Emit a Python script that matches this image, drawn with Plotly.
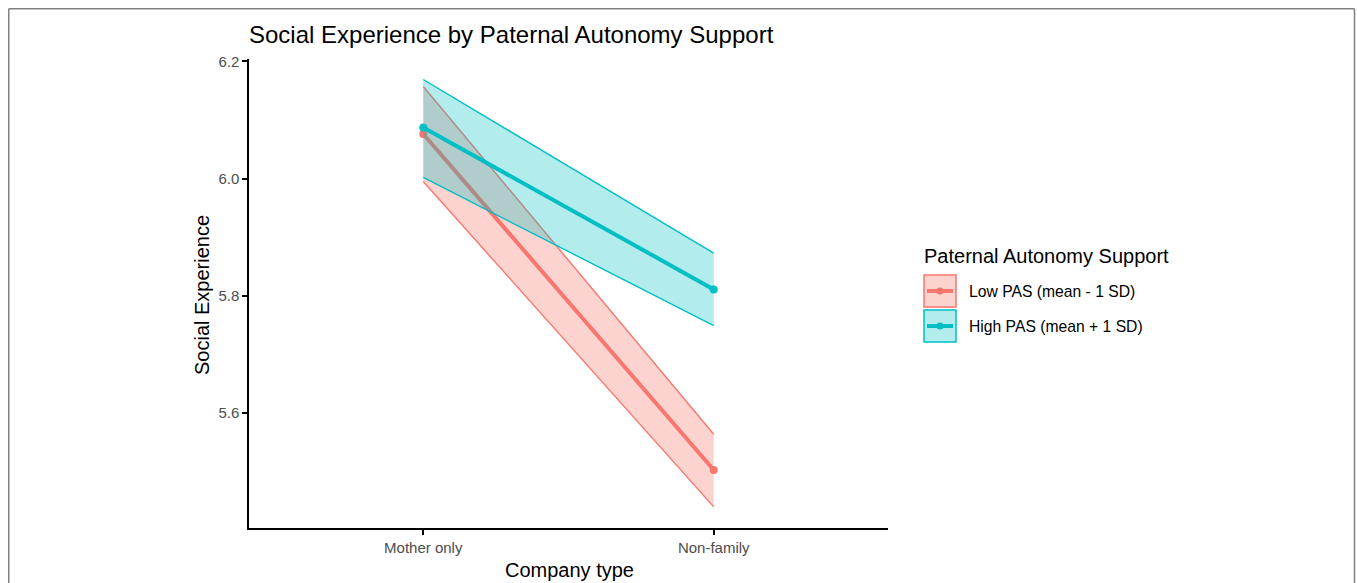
import plotly.graph_objects as go

# ---- data ----
categories = ["Mother only", "Non-family"]
series_names = ["Low PAS (mean - 1 SD)", "High PAS (mean + 1 SD)"]
low_mean = [6.076, 5.503]
low_lower = [5.995, 5.440]
low_upper = [6.157, 5.564]
high_mean = [6.087, 5.811]
high_lower = [6.002, 5.749]
high_upper = [6.169, 5.873]
y_ticks = [5.6, 5.8, 6.0, 6.2]

RED = "#F8766D"
CYAN = "#00BFC4"
RED_FILL = "rgba(248,118,109,0.32)"
CYAN_FILL = "rgba(0,191,196,0.30)"
FONT = "Liberation Sans, Arial, sans-serif"

# body margin is removed below, so figure pixels == page pixels
W, H = 1357, 583
L, R, T, B = 249, 888, 59, 528


def pxx(x):
    """page x pixel -> paper coordinate"""
    return (x - L) / (R - L)


def pxy(y):
    """page y pixel -> paper coordinate"""
    return (B - y) / (B - T)


fig = go.Figure()

groups = [
    (low_mean, low_lower, low_upper, RED, RED_FILL),
    (high_mean, high_lower, high_upper, CYAN, CYAN_FILL),
]
for mean, lower, upper, col, fill in groups:
    fig.add_trace(go.Scatter(
        x=categories + categories[::-1], y=upper + lower[::-1],
        fill="toself", fillcolor=fill, mode="lines",
        line=dict(width=0, color=fill), hoverinfo="skip", showlegend=False))
    for edge in (upper, lower):
        fig.add_trace(go.Scatter(x=categories, y=edge, mode="lines",
                                 line=dict(color=col, width=1.4),
                                 hoverinfo="skip", showlegend=False))
    fig.add_trace(go.Scatter(x=categories, y=mean, mode="lines+markers",
                             line=dict(color=col, width=4),
                             marker=dict(color=col, size=8),
                             showlegend=False))

fig.update_xaxes(
    type="category", range=[-0.6, 1.6], showline=True, linecolor="black",
    linewidth=1.5, ticks="outside", ticklen=5, tickcolor="black", tickwidth=1.5,
    showgrid=False, zeroline=False,
    tickfont=dict(family=FONT, size=15, color="#4D4D4D"))
fig.update_yaxes(
    range=[5.404, 6.204], tickvals=y_ticks, ticktext=[f"{v:.1f}" for v in y_ticks],
    showline=True, linecolor="black", linewidth=1.5, ticks="outside", ticklen=5,
    tickcolor="black", tickwidth=1.5, showgrid=False, zeroline=False,
    tickfont=dict(family=FONT, size=15, color="#4D4D4D"))

shapes = []
annotations = []
# outer frame: top, left and right edges
frame_line = dict(color="#808080", width=1.5)
for x0, y0, x1, y1 in [(8.75, 8.75, 1354.5, 8.75), (8.75, 8.75, 8.75, 640),
                       (1354.5, 8.75, 1354.5, 640)]:
    shapes.append(dict(type="line", xref="paper", yref="paper",
                       x0=pxx(x0), x1=pxx(x1), y0=pxy(y0), y1=pxy(y1),
                       line=frame_line, layer="above"))

# legend (manual, ggplot style)
annotations.append(dict(text="Paternal Autonomy Support", xref="paper", yref="paper",
                        x=pxx(922), y=pxy(256), xanchor="left", yanchor="middle",
                        showarrow=False, font=dict(family=FONT, size=20, color="black")))
key_rows = [(291, RED, RED_FILL, series_names[0]), (326, CYAN, CYAN_FILL, series_names[1])]
for yc, col, fill, name in key_rows:
    shapes.append(dict(type="rect", xref="paper", yref="paper",
                       x0=pxx(924), x1=pxx(956), y0=pxy(yc + 16), y1=pxy(yc - 16),
                       line=dict(color=col, width=1.5), fillcolor=fill))
    shapes.append(dict(type="line", xref="paper", yref="paper",
                       x0=pxx(927), x1=pxx(953), y0=pxy(yc), y1=pxy(yc),
                       line=dict(color=col, width=4)))
    shapes.append(dict(type="circle", xref="paper", yref="paper",
                       x0=pxx(936.5), x1=pxx(943.5), y0=pxy(yc + 3.5), y1=pxy(yc - 3.5),
                       line=dict(color=col, width=0), fillcolor=col))
    annotations.append(dict(text=name, xref="paper", yref="paper",
                            x=pxx(967), y=pxy(yc), xanchor="left", yanchor="middle",
                            showarrow=False, font=dict(family=FONT, size=15.7, color="black")))

# axis titles
annotations.append(dict(text="Company type", xref="paper", yref="paper",
                        x=pxx(569), y=pxy(570), xanchor="center", yanchor="middle",
                        showarrow=False, font=dict(family=FONT, size=20, color="black")))
annotations.append(dict(text="Social Experience", xref="paper", yref="paper",
                        x=pxx(202), y=pxy(295), xanchor="center", yanchor="middle",
                        textangle=-90, showarrow=False,
                        font=dict(family=FONT, size=20, color="black")))

fig.update_layout(
    width=W, height=H,
    margin=dict(l=L, r=W - R, t=T, b=H - B),
    plot_bgcolor="white", paper_bgcolor="white",
    showlegend=False,
    title=dict(text="Social Experience by Paternal Autonomy Support",
               x=249 / W, xref="container", xanchor="left",
               y=1 - 35 / H, yref="container", yanchor="middle",
               font=dict(family=FONT, size=24, color="black")),
    shapes=shapes, annotations=annotations,
)

fig.write_html(
    "out.html",
    config={"displayModeBar": False},
    post_script="document.body.style.margin='0';document.body.style.overflow='hidden';",
)
